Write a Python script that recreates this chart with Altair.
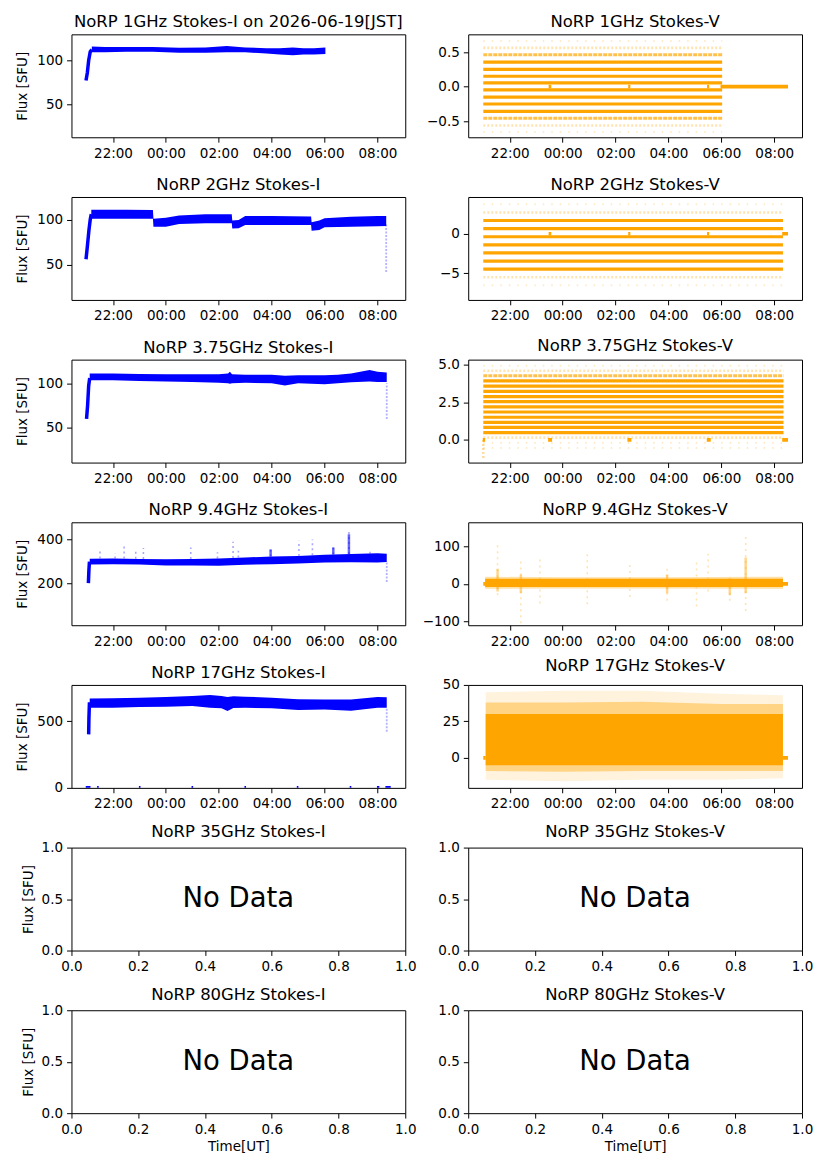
import altair as alt
import pandas as pd

FONT = "DejaVu Sans"
BLUE = "#0000ff"
ORANGE = "#ffa500"
W, H = 334, 103

# time axis: hours from 00:00 UT (negative = previous day)
X_DOMAIN = [-3.57, 9.05]
X_TICKS = [-2, 0, 2, 4, 6, 8]
TIME_LABEL = "format((datum.value + 24) % 24, '02d') + ':00'"

TITLES_I = ["NoRP 1GHz Stokes-I on 2026-06-19[JST]", "NoRP 2GHz Stokes-I", "NoRP 3.75GHz Stokes-I",
            "NoRP 9.4GHz Stokes-I", "NoRP 17GHz Stokes-I", "NoRP 35GHz Stokes-I", "NoRP 80GHz Stokes-I"]
TITLES_V = ["NoRP 1GHz Stokes-V", "NoRP 2GHz Stokes-V", "NoRP 3.75GHz Stokes-V",
            "NoRP 9.4GHz Stokes-V", "NoRP 17GHz Stokes-V", "NoRP 35GHz Stokes-V", "NoRP 80GHz Stokes-V"]
NO_DATA = ["No Data"]
Y_TITLE = "Flux [SFU]"
X_TITLE = "Time[UT]"

# ---------------- Stokes-I ----------------
# 1 GHz
I1_T = [-2.80, -2.3, -1.5, -0.5, 0.5, 1.5, 2.3, 3.0, 3.8, 4.3, 4.8, 5.2, 5.6, 6.03]
I1_LO = [109.5, 109.5, 110, 110, 109, 109, 109.5, 109.5, 108, 107, 106, 107, 107, 107.5]
I1_HI = [116, 115.5, 115.5, 115.5, 114.5, 115, 116.5, 115, 114, 114, 115, 114, 114, 115]
I1_RISE_T = [-3.02, -2.97, -2.92, -2.86, -2.80]
I1_RISE_V = [77, 86, 100, 110, 112.5]
# 2 GHz
I2_T = [-2.82, -1.5, -0.49, -0.47, 0.0, 0.5, 1.5, 2.49, 2.51, 2.75, 3.0, 4.0, 5.49, 5.51, 5.8, 6.0, 7.0, 8.0, 8.33]
I2_LO = [101, 101, 101, 92, 92, 95, 96, 96, 90, 90.5, 94, 94, 94, 87.5, 88.5, 91.5, 92, 92.5, 93]
I2_HI = [111, 111, 110.5, 101, 102, 104.5, 106, 106, 99, 99.5, 104, 104, 103.5, 97, 99, 101.5, 103, 104, 104]
I2_RISE_T = [-3.02, -2.97, -2.91, -2.86, -2.82]
I2_RISE_V = [56, 70, 88, 100, 106]
I2_TAIL = [8.33, 42, 95]
# 3.75 GHz
I3_T = [-2.88, -2.0, -1.0, 0.0, 1.0, 2.0, 2.35, 2.42, 2.5, 3.0, 4.0, 4.5, 5.0, 6.0, 6.5, 7.0, 7.7, 8.0, 8.35]
I3_LO = [103.5, 103.5, 102.5, 102, 101.5, 100.5, 100, 99.5, 100, 100.5, 100, 97.5, 100, 99, 100, 101, 102, 101.5, 101.5]
I3_HI = [111, 111, 110.5, 110, 110, 110, 111, 113, 110, 109.5, 109.5, 108.5, 109, 109, 109.5, 111, 115, 113, 112]
I3_RISE_T = [-3.0, -2.96, -2.92, -2.88]
I3_RISE_V = [60, 75, 97, 106]
I3_TAIL = [8.35, 60, 100]
# 9.4 GHz
I4_T = [-2.88, -2.0, -1.0, 0.0, 1.0, 2.0, 3.0, 4.0, 5.0, 6.0, 7.0, 8.0, 8.35]
I4_LO = [285, 286, 284, 280, 280, 279, 283, 286, 289, 294, 295, 294, 296]
I4_HI = [311, 312, 310, 308, 309, 312, 316, 321, 323, 329, 332, 335, 333]
I4_RISE_T = [-2.93, -2.91, -2.89]
I4_RISE_V = [200, 260, 298]
I4_TAIL = [8.35, 205, 296]
I4_SPIKE_T = [-2.49, -1.92, -1.58, -1.14, -0.85, 0.94, 1.95, 2.54, 2.74, 3.96, 5.03, 5.54, 6.33, 6.92, 7.72]
I4_SPIKE_LO = [312, 312, 312, 311, 310, 309, 312, 314, 316, 321, 323, 326, 330, 332, 334]
I4_SPIKE_HI = [352, 335, 377, 350, 359, 362, 340, 388, 347, 362, 392, 398, 373, 438, 342]
I4_BURST_T = [3.96, 6.33, 6.92]
I4_BURST_LO = [321, 330, 332]
I4_BURST_HI = [352, 362, 422]
# 17 GHz
I5_T = [-2.88, -2.0, -1.0, 0.0, 1.0, 1.67, 2.1, 2.33, 2.55, 3.0, 4.0, 5.0, 6.0, 7.0, 8.0, 8.35]
I5_LO = [600, 600, 605, 607, 612, 600, 595, 575, 598, 600, 595, 582, 587, 577, 600, 600]
I5_HI = [668, 670, 675, 680, 687, 695, 688, 680, 685, 682, 675, 663, 662, 662, 680, 678]
I5_RISE_T = [-2.92, -2.91, -2.89]
I5_RISE_V = [400, 520, 640]
I5_TAIL = [8.35, 420, 600]
I5_ZERO_T0 = [-3.03, -2.6, -1.02, 0.97, 2.97, 4.95, 6.95, 7.98, 8.3]
I5_ZERO_T1 = [-2.85, -2.54, -0.96, 1.03, 3.03, 5.01, 7.01, 8.07, 8.5]

# ---------------- Stokes-V ----------------
V1_LEVELS = [0.66, 0.56, 0.46, 0.355, 0.25, 0.15, 0.055, -0.045, -0.15, -0.25, -0.355, -0.455, -0.56, -0.655]
V1_KIND = ["sparse", "speck", "mid", "dense", "dense", "dense", "dense", "dense", "dense", "dense",
           "dense", "mid", "speck", "sparse"]
V1_SPAN = [-3.0, 6.03]
V1_ZERO_T0 = [-0.53, 2.48, 5.46, 5.97]
V1_ZERO_T1 = [-0.43, 2.56, 5.54, 8.52]

V2_LEVELS = [3.72, 2.7, 1.68, 0.66, -0.37, -1.4, -2.42, -3.44, -4.46, -5.48, -6.5]
V2_KIND = ["sparse", "speck", "dense", "dense", "dense", "dense", "dense", "dense", "dense", "speck", "sparse"]
V2_SPAN = [-3.0, 8.33]
V2_ZERO_T0 = [-0.53, 2.48, 5.46, 8.3]
V2_ZERO_T1 = [-0.43, 2.56, 5.54, 8.52]

V3_LEVELS = [4.95, 4.61, 4.27, 3.93, 3.58, 3.24, 2.89, 2.55, 2.2, 1.86, 1.51, 1.17, 0.83, 0.49, 0.15, -0.2, -0.54]
V3_KIND = ["sparse", "speck", "mid", "dense", "dense", "dense", "dense", "dense", "dense", "dense",
           "dense", "dense", "dense", "dense", "speck", "sparse", "sparse"]
V3_SPAN = [-3.0, 8.35]
V3_ZERO_T0 = [-3.02, -0.55, 2.45, 5.45, 8.3]
V3_ZERO_T1 = [-2.93, -0.4, 2.6, 5.6, 8.52]
V3_SCATTER = [-3.0, -1.2, 0.0]

V4_T = [-2.93, 0.0, 4.0, 8.33]
V4_LO = [-8, -8, -8, -8]
V4_HI = [14, 14, 14, 14]
V4_HALO_LO = [-13, -12, -12, -13]
V4_HALO_HI = [19, 18, 18, 19]
V4_SPIKE_T = [-2.46, -1.58, -0.86, 0.93, 2.54, 3.95, 5.06, 5.5, 6.32, 6.92]
V4_SPIKE_LO = [-30, -105, -52, -54, -35, -45, -60, -20, -45, -72]
V4_SPIKE_HI = [108, 65, 75, 87, 55, 45, 57, 80, 20, 134]
V4_BURST_T = [-2.46, -1.58, 3.95, 6.32, 6.92]
V4_BURST_LO = [-20, -25, -25, -30, -25]
V4_BURST_HI = [40, 25, 25, 15, 70]
V4_ZERO_T0 = [-3.0, 8.3]
V4_ZERO_T1 = [-2.93, 8.52]

V5_T = [-2.91, 0.0, 3.0, 6.0, 8.33]
V5_LO = [-5, -5, -5, -5, -5]
V5_HI = [30, 30, 30, 30, 30]
V5_HALO1_LO = [-9, -9.5, -9, -9, -9]
V5_HALO1_HI = [38, 38, 38.5, 37, 37]
V5_HALO2_LO = [-15, -16, -15, -15, -14]
V5_HALO2_HI = [45, 46, 46, 44, 43]
V5_ZERO_T0 = [-3.0, 8.33]
V5_ZERO_T1 = [-2.91, 8.52]

# ---------------- helpers ----------------
LEVEL_STYLE = {
    "dense": dict(strokeWidth=3.2, opacity=1.0),
    "mid": dict(strokeWidth=3.0, opacity=0.7, strokeDash=[4, 1]),
    "speck": dict(strokeWidth=2.6, opacity=0.3, strokeDash=[2, 2]),
    "sparse": dict(strokeWidth=2.0, opacity=0.22, strokeDash=[1.5, 7]),
}


def time_x(field):
    return alt.X(field, type="quantitative",
                 scale=alt.Scale(domain=X_DOMAIN, nice=False, zero=False),
                 axis=alt.Axis(values=X_TICKS, labelExpr=TIME_LABEL, title=None))


def make_y(field, domain, ticks, fmt, left, extent=37):
    if left:
        axis = alt.Axis(values=ticks, format=fmt, title=Y_TITLE, minExtent=extent,
                        maxExtent=extent, titlePadding=4.5)
    else:
        axis = alt.Axis(values=ticks, format=fmt, title=None)
    return alt.Y(field, type="quantitative",
                 scale=alt.Scale(domain=domain, nice=False, zero=False), axis=axis)


def title_params(text, offset=-9.4):
    return alt.TitleParams(text=text, font=FONT, fontSize=16.5, fontWeight="normal", color="black",
                           anchor="middle", frame="group", baseline="alphabetic", offset=offset)


def stokes_i(title, t, lo, hi, rise_t, rise_v, ydom, yticks, tail=None, spikes=None,
             bursts=None, zeros=None):
    Y = lambda f: make_y(f, ydom, yticks, "d", True)
    band = pd.DataFrame({"t": t, "lo": lo, "hi": hi})
    layers = [alt.Chart(band).mark_area(color=BLUE, clip=True).encode(
        x=time_x("t"), y=Y("lo"), y2="hi")]
    rise = pd.DataFrame({"t": rise_t, "v": rise_v})
    layers.append(alt.Chart(rise).mark_line(color=BLUE, strokeWidth=3.5, clip=True).encode(
        x=time_x("t"), y=Y("v")))
    if spikes is not None:
        sdf = pd.DataFrame({"t": spikes[0], "lo": spikes[1], "hi": spikes[2]})
        layers.append(alt.Chart(sdf).mark_rule(color=BLUE, strokeWidth=1.6, opacity=0.35,
                                               strokeDash=[2, 3], clip=True).encode(
            x=time_x("t"), y=Y("lo"), y2="hi"))
    if bursts is not None:
        bdf = pd.DataFrame({"t": bursts[0], "lo": bursts[1], "hi": bursts[2]})
        layers.append(alt.Chart(bdf).mark_rule(color=BLUE, strokeWidth=2.5, opacity=0.6, clip=True).encode(
            x=time_x("t"), y=Y("lo"), y2="hi"))
    if tail is not None:
        tdf = pd.DataFrame({"t": [tail[0]], "lo": [tail[1]], "hi": [tail[2]]})
        layers.append(alt.Chart(tdf).mark_rule(color=BLUE, strokeWidth=1.8, opacity=0.3,
                                               strokeDash=[2, 1.5], clip=True).encode(
            x=time_x("t"), y=Y("lo"), y2="hi"))
    if zeros is not None:
        zdf = pd.DataFrame({"t0": zeros[0], "t1": zeros[1], "v": [0] * len(zeros[0])})
        layers.append(alt.Chart(zdf).mark_rule(color=BLUE, strokeWidth=4, clip=True).encode(
            x=time_x("t0"), x2="t1", y=Y("v")))
    return alt.layer(*layers).properties(width=W, height=H, title=title_params(title))


def stokes_v(title, ydom, yticks, fmt, levels=None, kinds=None, span=None, zeros=None,
             bands=None, spikes=None, bursts=None, scatter=None):
    Y = lambda f: make_y(f, ydom, yticks, fmt, False)
    layers = []
    if bands is not None:
        for (bt, blo, bhi, op) in bands:
            bdf = pd.DataFrame({"t": bt, "lo": blo, "hi": bhi})
            layers.append(alt.Chart(bdf).mark_area(color=ORANGE, opacity=op, clip=True).encode(
                x=time_x("t"), y=Y("lo"), y2="hi"))
    if spikes is not None:
        sdf = pd.DataFrame({"t": spikes[0], "lo": spikes[1], "hi": spikes[2]})
        layers.append(alt.Chart(sdf).mark_rule(color=ORANGE, strokeWidth=1.6, opacity=0.3,
                                               strokeDash=[2, 4], clip=True).encode(
            x=time_x("t"), y=Y("lo"), y2="hi"))
    if bursts is not None:
        bdf = pd.DataFrame({"t": bursts[0], "lo": bursts[1], "hi": bursts[2]})
        layers.append(alt.Chart(bdf).mark_rule(color=ORANGE, strokeWidth=2.5, opacity=0.45, clip=True).encode(
            x=time_x("t"), y=Y("lo"), y2="hi"))
    if levels is not None:
        for kind, style in LEVEL_STYLE.items():
            lv = [l for l, k in zip(levels, kinds) if k == kind]
            if not lv:
                continue
            ldf = pd.DataFrame({"v": lv, "t0": [span[0]] * len(lv), "t1": [span[1]] * len(lv)})
            layers.append(alt.Chart(ldf).mark_rule(color=ORANGE, clip=True, **style).encode(
                x=time_x("t0"), x2="t1", y=Y("v")))
    if scatter is not None:
        cdf = pd.DataFrame({"t": [scatter[0]], "lo": [scatter[1]], "hi": [scatter[2]]})
        layers.append(alt.Chart(cdf).mark_rule(color=ORANGE, strokeWidth=2.5, opacity=0.4,
                                               strokeDash=[2, 2], clip=True).encode(
            x=time_x("t"), y=Y("lo"), y2="hi"))
    if zeros is not None:
        zdf = pd.DataFrame({"t0": zeros[0], "t1": zeros[1], "v": [0] * len(zeros[0])})
        layers.append(alt.Chart(zdf).mark_rule(color=ORANGE, strokeWidth=3.6, clip=True).encode(
            x=time_x("t0"), x2="t1", y=Y("v")))
    return alt.layer(*layers).properties(width=W, height=H, title=title_params(title))


def no_data(title, left, bottom):
    df = pd.DataFrame({"x": [0.5], "y": [0.5], "txt": NO_DATA})
    xaxis = alt.Axis(values=[0, 0.2, 0.4, 0.6, 0.8, 1.0], format=".1f",
                     title=X_TITLE if bottom else None, titlePadding=4)
    if left:
        yaxis = alt.Axis(values=[0, 0.5, 1.0], format=".1f", title=Y_TITLE,
                         minExtent=32, maxExtent=32, titlePadding=3.5)
    else:
        yaxis = alt.Axis(values=[0, 0.5, 1.0], format=".1f", title=None)
    return alt.Chart(df).mark_text(font=FONT, fontSize=27.5, color="black", baseline="middle",
                                   align="center").encode(
        x=alt.X("x:Q", scale=alt.Scale(domain=[0, 1], nice=False), axis=xaxis),
        y=alt.Y("y:Q", scale=alt.Scale(domain=[0, 1], nice=False), axis=yaxis),
        text="txt:N",
    ).properties(width=W, height=H, title=title_params(title, offset=-13))


panels = [
    stokes_i(TITLES_I[0], I1_T, I1_LO, I1_HI, I1_RISE_T, I1_RISE_V, [12, 130], [50, 100]),
    stokes_v(TITLES_V[0], [-0.73, 0.755], [-0.5, 0.0, 0.5], ".1f", V1_LEVELS, V1_KIND, V1_SPAN,
             zeros=(V1_ZERO_T0, V1_ZERO_T1)),
    stokes_i(TITLES_I[1], I2_T, I2_LO, I2_HI, I2_RISE_T, I2_RISE_V, [11, 125], [50, 100], tail=I2_TAIL),
    stokes_v(TITLES_V[1], [-8.35, 4.65], [-5, 0], "d", V2_LEVELS, V2_KIND, V2_SPAN,
             zeros=(V2_ZERO_T0, V2_ZERO_T1)),
    stokes_i(TITLES_I[2], I3_T, I3_LO, I3_HI, I3_RISE_T, I3_RISE_V, [11, 126.5], [50, 100], tail=I3_TAIL),
    stokes_v(TITLES_V[2], [-1.51, 5.35], [0, 2.5, 5], ".1f", V3_LEVELS, V3_KIND, V3_SPAN,
             zeros=(V3_ZERO_T0, V3_ZERO_T1), scatter=V3_SCATTER),
    stokes_i(TITLES_I[3], I4_T, I4_LO, I4_HI, I4_RISE_T, I4_RISE_V, [9, 476], [200, 400], tail=I4_TAIL,
             spikes=(I4_SPIKE_T, I4_SPIKE_LO, I4_SPIKE_HI),
             bursts=(I4_BURST_T, I4_BURST_LO, I4_BURST_HI)),
    stokes_v(TITLES_V[3], [-110, 164], [-100, 0, 100], "d", zeros=(V4_ZERO_T0, V4_ZERO_T1),
             bands=[(V4_T, V4_HALO_LO, V4_HALO_HI, 0.35), (V4_T, V4_LO, V4_HI, 1.0)],
             spikes=(V4_SPIKE_T, V4_SPIKE_LO, V4_SPIKE_HI),
             bursts=(V4_BURST_T, V4_BURST_LO, V4_BURST_HI)),
    stokes_i(TITLES_I[4], I5_T, I5_LO, I5_HI, I5_RISE_T, I5_RISE_V, [0, 770], [0, 500], tail=I5_TAIL,
             zeros=(I5_ZERO_T0, I5_ZERO_T1)),
    stokes_v(TITLES_V[4], [-20.6, 50], [0, 25, 50], "d", zeros=(V5_ZERO_T0, V5_ZERO_T1),
             bands=[(V5_T, V5_HALO2_LO, V5_HALO2_HI, 0.13), (V5_T, V5_HALO1_LO, V5_HALO1_HI, 0.4),
                    (V5_T, V5_LO, V5_HI, 1.0)]),
    no_data(TITLES_I[5], True, False),
    no_data(TITLES_V[5], False, False),
    no_data(TITLES_I[6], True, True),
    no_data(TITLES_V[6], False, True),
]

chart = alt.concat(*panels, columns=2, spacing={"row": 59.75, "column": 63}, bounds="flush").configure_view(
    stroke="black", strokeWidth=1
).configure_axis(
    labelFont=FONT, labelFontSize=13.5, labelColor="black",
    titleFont=FONT, titleFontSize=13.5, titleFontWeight="normal", titleColor="black",
    tickColor="black", tickSize=4.9, tickWidth=1, labelPadding=4,
    domain=False, grid=False, labelFlush=False, labelOverlap=False,
).properties(
    padding={"left": 7.5, "top": 5, "right": 5, "bottom": 5}
)

chart.save("out.html", embed_options={"renderer": "svg", "actions": False})
